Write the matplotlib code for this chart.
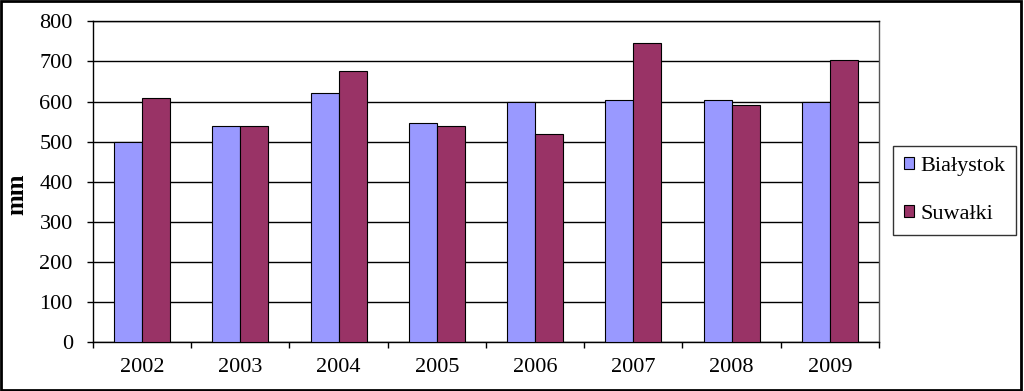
import matplotlib
matplotlib.use('Agg')
import matplotlib.pyplot as plt
from matplotlib.patches import Rectangle
import numpy as np

years = ['2002', '2003', '2004', '2005', '2006', '2007', '2008', '2009']
bialystok = [500, 540, 620, 546, 599, 604, 603, 600]
suwalki = [610, 540, 677, 540, 519, 745, 591, 704]

plt.rcParams['font.family'] = ['Liberation Serif', 'DejaVu Serif']

fig = plt.figure(figsize=(10.24, 3.91), dpi=100)
ax = fig.add_axes([0.0908, 0.1246, 0.7676, 0.821])

x = np.arange(len(years))
w = 0.286
ax.bar(x - w / 2, bialystok, w, color='#9999FF', edgecolor='black', linewidth=0.8,
       label='Białystok', zorder=3)
ax.bar(x + w / 2, suwalki, w, color='#993366', edgecolor='black', linewidth=0.8,
       label='Suwałki', zorder=3)

ax.set_xlim(-0.5, len(years) - 0.5)
ax.set_ylim(0, 800)
ax.set_yticks(range(0, 801, 100))
ax.yaxis.grid(True, color='black', linewidth=1, zorder=0)
ax.set_axisbelow(True)

ax.set_xticks(x)
ax.set_xticklabels(years)
ax.set_xticks(np.arange(-0.5, len(years), 1), minor=True)
ax.tick_params(axis='x', which='major', length=0, pad=11, labelsize=16)
ax.tick_params(axis='x', which='minor', length=4.5, width=1, direction='out')
ax.tick_params(axis='y', length=4.5, width=1, pad=10, labelsize=16)

for s in ['left', 'bottom', 'top']:
    ax.spines[s].set_linewidth(1)
ax.spines['right'].set_color('#555555')
ax.spines['right'].set_linewidth(1)

ax.set_ylabel('mm', fontsize=18, fontweight='bold')
ax.yaxis.set_label_coords(-0.0827, 0.462)

leg = ax.legend(loc='upper left', bbox_to_anchor=(893 / 1024, 245 / 391),
                bbox_transform=fig.transFigure, fontsize=16, frameon=True,
                fancybox=False, handlelength=0.45, handleheight=0.45,
                handletextpad=0.27, labelspacing=1.3, borderpad=0.5,
                borderaxespad=0)
leg.get_frame().set_edgecolor('black')
leg.get_frame().set_linewidth(1)

fig.patches.append(Rectangle((0.001, 0.002), 0.996, 0.995, transform=fig.transFigure,
                             fill=False, edgecolor='black', linewidth=2))

fig.savefig('out.png', dpi=100)
